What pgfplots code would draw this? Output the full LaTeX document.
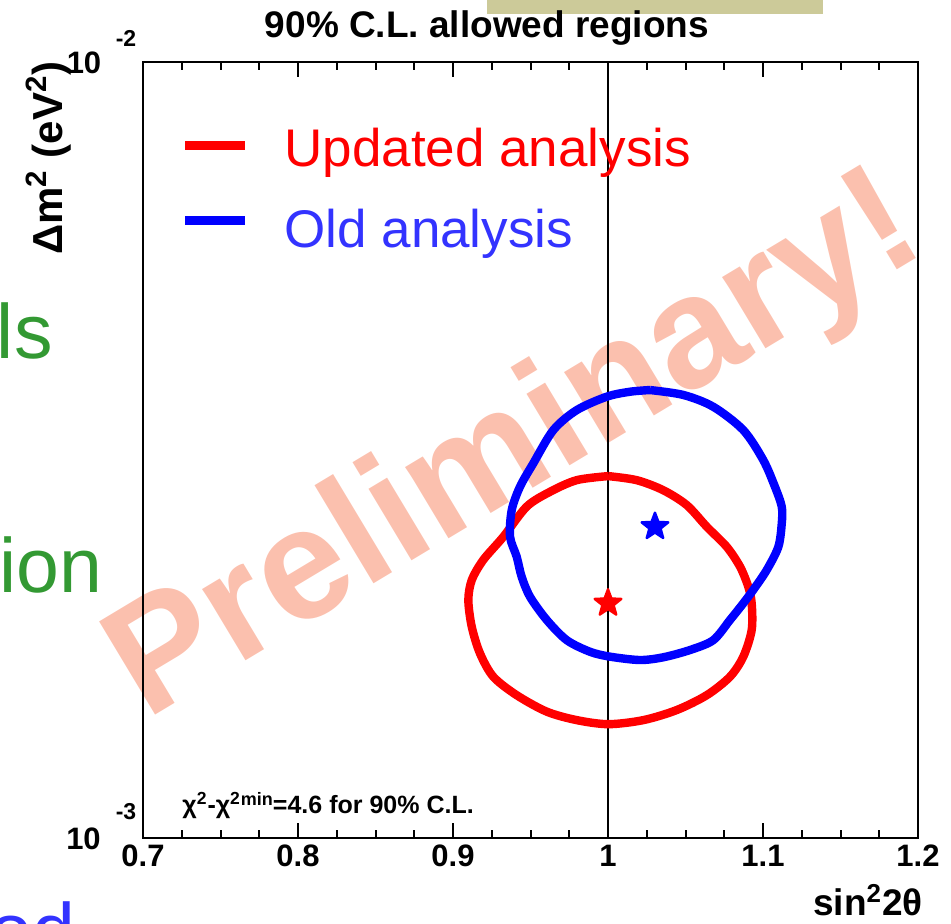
\documentclass[border=0pt]{standalone}
\usepackage{fontspec}
\setmainfont{Liberation Sans}
\usepackage{pgfplots}
\pgfplotsset{compat=1.18}

\definecolor{wm}{RGB}{251,192,174}
\definecolor{txtblue}{RGB}{51,51,255}
\definecolor{txtgreen}{RGB}{51,153,51}
\definecolor{tanbar}{RGB}{204,202,153}

\newcommand{\fs}[1]{\fontsize{#1}{#1}\selectfont}

\pgfdeclareplotmark{fstar}{%
  \pgfpathmoveto{\pgfpointpolar{90}{\pgfplotmarksize}}%
  \pgfpathlineto{\pgfpointpolar{126}{0.42\pgfplotmarksize}}%
  \pgfpathlineto{\pgfpointpolar{162}{\pgfplotmarksize}}%
  \pgfpathlineto{\pgfpointpolar{198}{0.42\pgfplotmarksize}}%
  \pgfpathlineto{\pgfpointpolar{234}{\pgfplotmarksize}}%
  \pgfpathlineto{\pgfpointpolar{270}{0.42\pgfplotmarksize}}%
  \pgfpathlineto{\pgfpointpolar{306}{\pgfplotmarksize}}%
  \pgfpathlineto{\pgfpointpolar{342}{0.42\pgfplotmarksize}}%
  \pgfpathlineto{\pgfpointpolar{18}{\pgfplotmarksize}}%
  \pgfpathlineto{\pgfpointpolar{54}{0.42\pgfplotmarksize}}%
  \pgfpathclose
  \pgfusepathqfillstroke}

\begin{document}
\begin{tikzpicture}
% slide fragments and watermark (behind the plot)
\fill[tanbar] (172pt,412pt) rectangle (340pt,425pt);
\node[rotate=31, anchor=base west, text=wm, font=\fs{79pt}\bfseries, inner sep=0pt] at (1.5pt,58.6pt) {Preliminary!};

\begin{axis}[
  at={(0pt,0pt)}, anchor=south west,
  scale only axis, width=387.5pt, height=388pt,
  xmin=0.7, xmax=1.2, ymin=0.001, ymax=0.01,
  ymode=log,
  xtick={0.7,0.8,0.9,1,1.1,1.2},
  xticklabels={0.7,0.8,0.9,1,1.1,1.2},
  minor x tick num=3,
  ytick=\empty,
  minor ytick={0.002,0.003,0.004,0.005,0.006,0.007,0.008,0.009},
  xticklabel style={font=\fs{15.5pt}\bfseries},
  tick align=inside,
  major tick length=7.5pt, minor tick length=4pt,
  tick style={black, line width=1pt},
  axis line style={line width=1.3pt},
]
\addplot[black, line width=1pt] coordinates {(1,0.001) (1,0.01)};

\addplot[red, line width=4.2pt, line join=round, smooth] coordinates {
(1.0002,0.002927)(1.0185,0.002892)(1.0355,0.002808)(1.0508,0.002686)(1.0637,0.002519)
(1.0766,0.002373)(1.0852,0.002237)(1.0905,0.002108)(1.0927,0.002007)(1.0927,0.001854)
(1.0873,0.001713)(1.0787,0.001614)(1.0637,0.001528)(1.0443,0.001462)(1.0228,0.001419)
(1.0002,0.001402)(0.9798,0.001419)(0.9605,0.001455)(0.9411,0.001528)(0.9260,0.001614)
(0.9174,0.001730)(0.9121,0.001872)(0.9099,0.002026)(0.9121,0.002150)(0.9195,0.002282)
(0.9325,0.002445)(0.9475,0.002673)(0.9626,0.002794)(0.9798,0.002892)(1.0002,0.002927)
};

\addplot[blue, line width=4.2pt, line join=round, smooth] coordinates {
(1.0271,0.003779)(1.0486,0.003724)(1.0679,0.003596)(1.0873,0.003355)(1.1002,0.003069)
(1.1077,0.002836)(1.1121,0.002673)(1.1121,0.002543)(1.1099,0.002373)(1.1024,0.002215)
(1.0937,0.002088)(1.0873,0.002007)(1.0787,0.001910)(1.0679,0.001799)(1.0529,0.001747)
(1.0357,0.001710)(1.0206,0.001696)(1.0013,0.001713)(0.9884,0.001738)(0.9734,0.001799)
(0.9605,0.001910)(0.9497,0.002046)(0.9443,0.002171)(0.9411,0.002304)(0.9368,0.002445)
(0.9379,0.002647)(0.9432,0.002836)(0.9518,0.003040)(0.9647,0.003355)(0.9798,0.003560)
(0.9992,0.003705)(1.0142,0.003760)(1.0271,0.003779)
};

\addplot[only marks, mark=fstar, mark size=7pt, red, mark options={fill=red, line width=1.2pt, line join=round}] coordinates {(1.0,0.002007)};
\addplot[only marks, mark=fstar, mark size=7pt, blue, mark options={fill=blue, line width=1.2pt, line join=round}] coordinates {(1.0303,0.002519)};
\end{axis}

% title
\node[anchor=base, inner sep=0pt, font=\fs{18.5pt}\bfseries] at (172pt,400pt) {90\% C.L. allowed regions};
% y label
\node[rotate=90, anchor=base, inner sep=0pt, font=\fs{21pt}\bfseries] at (-40.5pt,340pt) {Δm\textsuperscript{2} (eV\textsuperscript{2})};
% y tick labels
\node[inner sep=0pt, font=\fs{15.5pt}\bfseries] at (-29.5pt,387.5pt) {10};
\node[inner sep=0pt, font=\fs{11.5pt}\bfseries] at (-8.5pt,400pt) {-2};
\node[inner sep=0pt, font=\fs{15.5pt}\bfseries] at (-29.75pt,-0.5pt) {10};
\node[inner sep=0pt, font=\fs{11.5pt}\bfseries] at (-8.5pt,13.25pt) {-3};
% x label
\node[anchor=base east, inner sep=0pt, font=\fs{18.5pt}\bfseries] at (390pt,-38.5pt) {sin\textsuperscript{2}2θ};
% chi2 annotation
\node[anchor=base west, inner sep=0pt, font=\fs{12.5pt}\bfseries] at (19.5pt,12.5pt) {χ\textsuperscript{2}-χ\textsuperscript{2}\raisebox{0.3em}{\fs{9pt}min}=4.6 for 90\% C.L.};
% legend
\draw[red, line width=4.5pt] (21pt,346.5pt) -- (51pt,346.5pt);
\draw[blue, line width=4.5pt] (21pt,309pt) -- (51pt,309pt);
\node[anchor=base west, inner sep=0pt, text=red, font=\fs{26.5pt}] at (70.5pt,336pt) {Updated analysis};
\node[anchor=base west, inner sep=0pt, text=txtblue, font=\fs{26.5pt}] at (70.5pt,295.5pt) {Old analysis};
% slide fragments
\node[anchor=base east, inner sep=0pt, text=txtgreen, font=\fs{38.5pt}] at (-45pt,240pt) {ls};
\node[anchor=base east, inner sep=0pt, text=txtgreen, font=\fs{38.5pt}] at (-20pt,123pt) {tion};
\node[anchor=base east, inner sep=0pt, text=txtblue, font=\fs{38.5pt}] at (-33.5pt,-59.5pt) {od};

\pgfresetboundingbox
\path[use as bounding box] (-71.5pt,-42.5pt) rectangle (404pt,419pt);
\end{tikzpicture}
\end{document}
